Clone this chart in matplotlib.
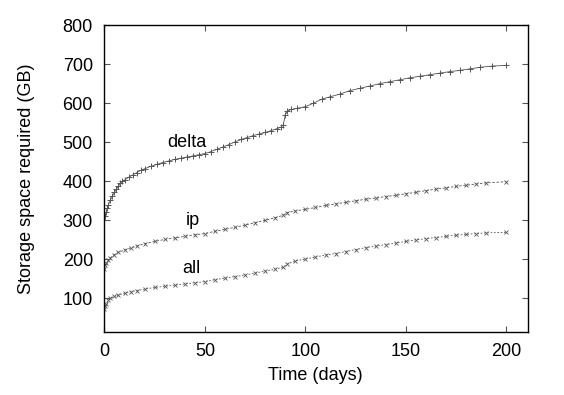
import matplotlib
matplotlib.use("Agg")
import matplotlib.pyplot as plt

plt.rcParams['font.family'] = ['Liberation Sans', 'DejaVu Sans']

# days / storage (GB)
delta_t = [0, 0.5, 1, 1.5, 2, 3, 4, 5, 6, 7, 8, 9, 10, 12, 14, 16, 18, 20, 23, 26,
           29, 32, 35, 38, 41, 44, 47, 50, 53, 56, 59, 62, 65, 68, 71, 74, 77, 80,
           83, 86, 88, 89, 90, 91, 93, 96, 100, 104, 108, 112, 117, 122, 127, 132,
           137, 142, 147, 152, 157, 162, 167, 172, 177, 182, 187, 193, 200]
delta_v = [300, 312, 322, 332, 340, 352, 362, 372, 380, 388, 395, 400, 403, 410, 416,
           422, 428, 432, 438, 443, 448, 452, 456, 459, 462, 465, 468, 471, 476, 482,
           488, 494, 501, 507, 512, 517, 521, 525, 530, 535, 539, 545, 570, 580, 584,
           587, 591, 600, 610, 616, 623, 632, 638, 644, 650, 655, 660, 665, 669, 673,
           677, 681, 684, 688, 692, 695, 697]

ip_t = [0, 0.5, 1, 2, 3, 5, 7, 10, 13, 16, 20, 25, 30, 35, 40, 45, 50, 55, 60, 65,
        70, 75, 80, 85, 89, 91, 95, 100, 105, 110, 115, 120, 125, 130, 135, 140,
        145, 150, 155, 160, 165, 170, 175, 180, 185, 190, 200]
ip_v = [175, 185, 190, 198, 204, 212, 218, 224, 229, 234, 240, 246, 251, 255, 259,
        263, 266, 272, 277, 282, 288, 294, 300, 307, 313, 320, 324, 328, 333, 338,
        342, 346, 350, 354, 357, 361, 364, 368, 372, 376, 380, 383, 387, 390, 393,
        396, 399]

all_t = ip_t
all_v = [72, 80, 86, 95, 100, 105, 109, 113, 117, 120, 124, 128, 131, 134, 137, 140,
         143, 148, 152, 156, 160, 165, 170, 175, 180, 188, 196, 201, 206, 211, 215,
         220, 225, 230, 234, 238, 242, 246, 250, 253, 256, 259, 262, 264, 266, 268,
         269]

fig = plt.figure(figsize=(5.64, 3.95), dpi=100)
ax = fig.add_axes([0.1844, 0.1595, 0.751, 0.777])

c = '#555555'
ax.plot(delta_t, delta_v, color=c, lw=0.6, marker='+', ms=5, mew=0.7)
ax.plot(ip_t, ip_v, color=c, lw=0.6, ls=(0, (3, 2)), marker='x', ms=3.5, mew=0.6)
ax.plot(all_t, all_v, color=c, lw=0.6, ls=(0, (2, 2)), marker='x', ms=3.5, mew=0.6)

fs = 13
ax.text(41, 499, 'delta', fontsize=fs, ha='center', va='center')
ax.text(44, 300, 'ip', fontsize=fs, ha='center', va='center')
ax.text(43.5, 177, 'all', fontsize=fs, ha='center', va='center')

ax.set_xlim(-0.2, 210.5)
ax.set_ylim(14, 800)
ax.set_xticks([0, 50, 100, 150, 200])
ax.set_yticks([100, 200, 300, 400, 500, 600, 700, 800])
ax.tick_params(direction='in', top=True, right=True, length=4, width=0.8,
               labelsize=fs, pad=8, color='#555555')
ax.set_xlabel('Time (days)', fontsize=fs, labelpad=5)
ax.set_ylabel('Storage space required (GB)', fontsize=fs, labelpad=20)
for s in ax.spines.values():
    s.set_linewidth(1.0)

fig.savefig('out.png', dpi=100)
